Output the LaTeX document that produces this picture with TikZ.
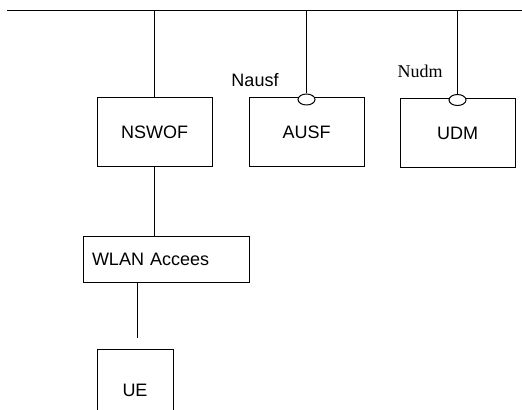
\documentclass[tikz,border=0pt]{standalone}
\usepackage{fontspec}
\setmainfont{Liberation Sans}
\newfontfamily\nudmfont{Liberation Serif}
\usetikzlibrary{shapes.geometric}
\tikzset{
  nf/.style={draw,line width=0.5pt,minimum width=57.5pt,minimum height=34.5pt,inner sep=0pt,font=\fontsize{9}{11}\selectfont},
  port/.style={draw,ellipse,fill=white,line width=0.5pt,minimum width=8.5pt,minimum height=5.5pt,inner sep=0pt},
  lbl/.style={inner sep=0pt,font=\fontsize{9}{11}\selectfont}
}
\begin{document}
\begin{tikzpicture}[x=0.5pt,y=-0.5pt,line width=0.5pt]
\useasboundingbox (0,0) rectangle (522,410);
\clip (0,0) rectangle (522,410);
% service bus
\coordinate (busl) at (7,11);
\coordinate (busr) at (522,11);
\draw (busl) -- (busr);
% network functions
\node[nf] (nswof) at (154.5,132.5) {NSWOF};
\node[nf] (ausf) at (306.5,132.5) {AUSF};
\node[nf] (udm) at (457.5,133.5) {UDM};
\node[port,yshift=-1pt] (ausfport) at (ausf.north) {};
\node[port,yshift=-0.75pt] (udmport) at (udm.north) {};
\node[lbl] (nausf) at (255,80) {Nausf};
\node[lbl,font=\nudmfont\fontsize{9}{11}\selectfont] (nudm) at (420,71) {Nudm};
\draw (nswof.north) -- (nswof.north |- busl);
\draw (ausfport.north) -- (ausfport.north |- busl);
\draw (udmport.north) -- (udmport.north |- busl);
% access side
\node[nf,minimum width=83pt,minimum height=22.5pt,text width=74pt,align=left,inner xsep=4.5pt] (wlan) at (166,259.5) {WLAN Accees};
\node[nf,minimum width=38pt,minimum height=41pt] (ue) at (135,390) {UE};
\coordinate (uelink) at (137,338);
\draw (nswof.south) -- (nswof.south |- wlan.north);
\draw (uelink |- wlan.south) -- (uelink);
\end{tikzpicture}
\end{document}
